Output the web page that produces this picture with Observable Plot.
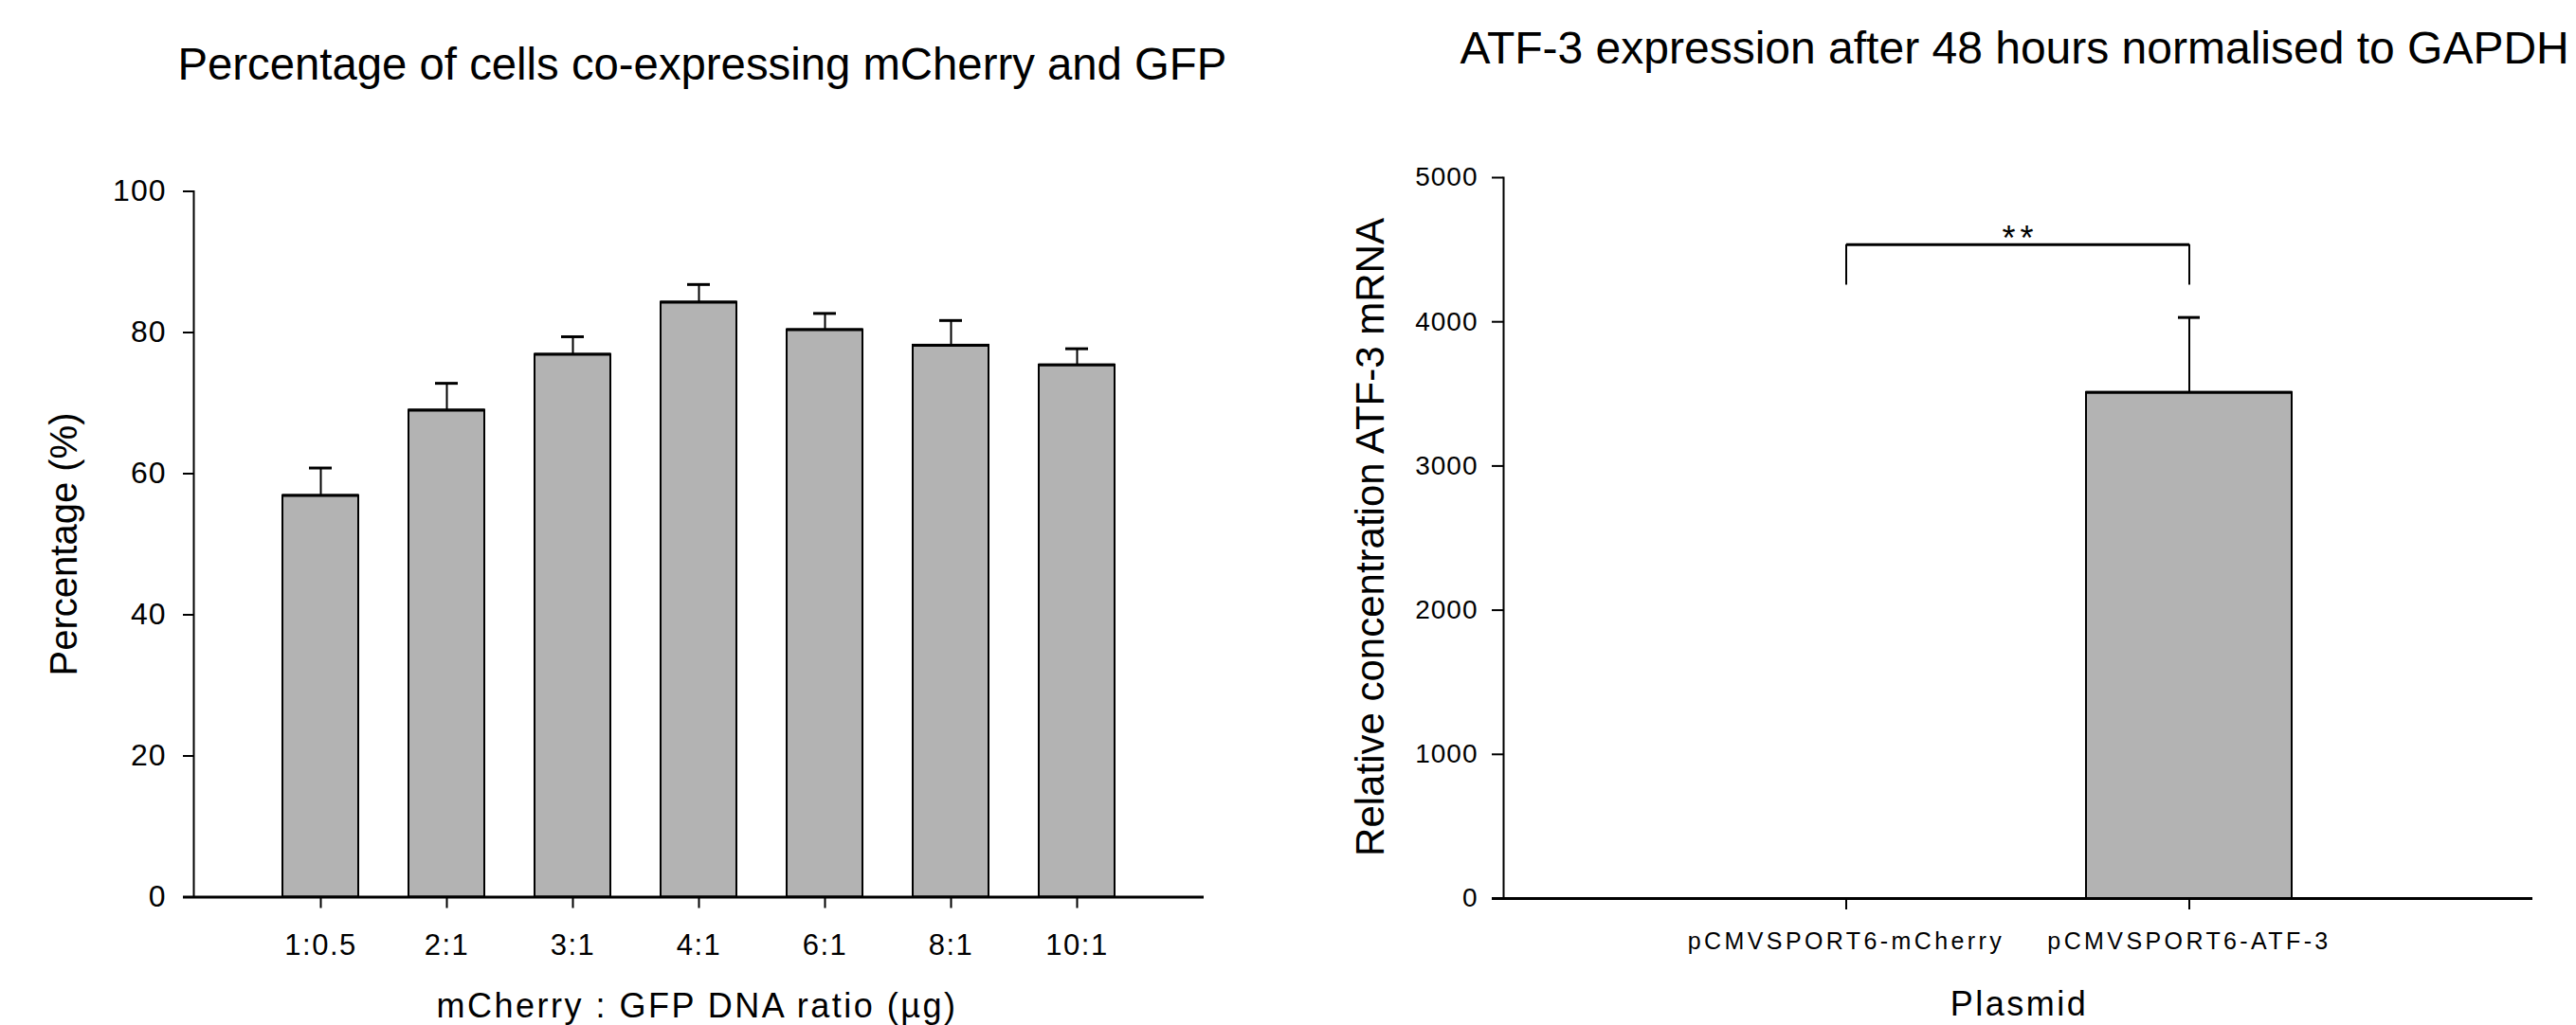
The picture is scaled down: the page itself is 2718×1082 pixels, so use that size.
<!DOCTYPE html>
<html>
<head>
<meta charset="utf-8">
<script src="https://cdn.jsdelivr.net/npm/d3@7"></script>
<script src="https://cdn.jsdelivr.net/npm/@observablehq/plot@0.6"></script>
<style>
html, body { margin: 0; padding: 0; background: #ffffff; }
#wrap { position: relative; width: 2718px; height: 1082px; overflow: hidden; background: #ffffff; }
#left { position: absolute; left: 0; top: 0; }
#right { position: absolute; left: 1359px; top: 0; }
</style>
</head>
<body>
<div id="wrap"><div id="left"></div><div id="right"></div></div>
<script>
// ---- Left chart data ----
const leftTitle = "Percentage of cells co-expressing mCherry and GFP";
const leftXLabel = "mCherry : GFP DNA ratio (µg)";
const leftYLabel = "Percentage (%)";
const ratios = ["1:0.5", "2:1", "3:1", "4:1", "6:1", "8:1", "10:1"];
const percent = [56.9, 69.0, 76.9, 84.3, 80.4, 78.2, 75.4];
const percentErr = [3.9, 3.8, 2.5, 2.5, 2.3, 3.5, 2.3];
const percentTicks = [0, 20, 40, 60, 80, 100];

// ---- Right chart data ----
const rightTitle = "ATF-3 expression after 48 hours normalised to GAPDH";
const rightXLabel = "Plasmid";
const rightYLabel = "Relative concentration ATF-3 mRNA";
const plasmids = ["pCMVSPORT6-mCherry", "pCMVSPORT6-ATF-3"];
const atf3 = [0, 3510];
const atf3Err = [0, 520];
const atf3Ticks = [0, 1000, 2000, 3000, 4000, 5000];
const bracketLow = 4255;
const bracketHigh = 4535;
const significance = "**";

const FONT = '"Liberation Sans", Arial, Helvetica, sans-serif';
const BAR = "#b3b3b3";

const leftData = ratios.map((c, i) => ({cat: c, value: percent[i], err: percentErr[i]}));
const rightData = plasmids.map((c, i) => ({cat: c, value: atf3[i], err: atf3Err[i]}));
const bracketData = plasmids.map(c => ({cat: c, lo: bracketLow, hi: bracketHigh}));

function letterSpace(svg, selector, ls) {
  svg.querySelectorAll(selector).forEach(t => { t.style.letterSpacing = ls; });
}
function letterSpaceText(svg, content, ls) {
  svg.querySelectorAll("text").forEach(t => { if (t.textContent === content) t.style.letterSpacing = ls; });
}

const left = Plot.plot({
  width: 1359, height: 1082,
  marginLeft: 204, marginRight: 89, marginTop: 201.5, marginBottom: 135.5,
  style: {fontFamily: FONT, background: "white", color: "black", overflow: "visible"},
  x: {type: "band", domain: ratios, paddingInner: 0.4, paddingOuter: 0.7},
  y: {domain: [0, 100]},
  marks: [
    Plot.barY(leftData, {x: "cat", y: "value", fill: BAR, stroke: "black", strokeWidth: 2}),
    Plot.ruleX(leftData, {x: "cat", y1: "value", y2: d => d.value + d.err, stroke: "black", strokeWidth: 2}),
    Plot.tickY(leftData, {x: "cat", y: d => d.value + d.err, stroke: "black", strokeWidth: 3, insetLeft: 28, insetRight: 28}),
    Plot.tickY(leftData, {x: "cat", y: "value", stroke: "black", strokeWidth: 3}),
    Plot.frame({anchor: "left", stroke: "black", strokeWidth: 2}),
    Plot.ruleY([0], {stroke: "black", strokeWidth: 3, insetLeft: -11}),
    Plot.axisY({ticks: percentTicks, tickSize: 11, tickPadding: 18, fontSize: 32, strokeWidth: 2, label: null, tickFormat: d => String(d)}),
    Plot.axisX({tickSize: 12, tickPadding: 26.5, fontSize: 31, strokeWidth: 2, label: null}),
    Plot.text([leftTitle], {text: d => d, frameAnchor: "top-left", textAnchor: "start", lineAnchor: "bottom", fontSize: 47.3, dx: -17, dy: -118.5}),
    Plot.text([leftXLabel], {text: d => d, frameAnchor: "bottom", textAnchor: "middle", lineAnchor: "bottom", fontSize: 36, dx: -2, dy: 126.5}),
    Plot.text([leftYLabel], {text: d => d, frameAnchor: "left", textAnchor: "middle", lineAnchor: "bottom", rotate: -90, fontSize: 40, dx: -124})
  ]
});
letterSpace(left, 'g[aria-label="x-axis tick label"] text', "1.5px");
letterSpace(left, 'g[aria-label="y-axis tick label"] text', "1px");
letterSpaceText(left, leftXLabel, "2.5px");
document.getElementById("left").appendChild(left);

const right = Plot.plot({
  width: 1359, height: 1082,
  marginLeft: 227, marginRight: 46, marginTop: 187, marginBottom: 134,
  style: {fontFamily: FONT, background: "white", color: "black", overflow: "visible"},
  x: {type: "band", domain: plasmids, paddingInner: 0.4, paddingOuter: 0.7},
  y: {domain: [0, 5000]},
  marks: [
    Plot.barY(rightData.filter(d => d.value > 0), {x: "cat", y: "value", fill: BAR, stroke: "black", strokeWidth: 2}),
    Plot.ruleX(rightData.filter(d => d.err > 0), {x: "cat", y1: "value", y2: d => d.value + d.err, stroke: "black", strokeWidth: 2}),
    Plot.tickY(rightData.filter(d => d.err > 0), {x: "cat", y: d => d.value + d.err, stroke: "black", strokeWidth: 3, insetLeft: 97, insetRight: 97}),
    Plot.tickY(rightData.filter(d => d.value > 0), {x: "cat", y: "value", stroke: "black", strokeWidth: 3}),
    Plot.ruleX(bracketData, {x: "cat", y1: "lo", y2: "hi", stroke: "black", strokeWidth: 2}),
    Plot.link([bracketData], {x1: d => d[0].cat, x2: d => d[1].cat, y1: d => d[0].hi, y2: d => d[1].hi, stroke: "black", strokeWidth: 3}),
    Plot.text([{y: bracketHigh, t: significance}], {y: "y", text: "t", textAnchor: "middle", lineAnchor: "bottom", fontSize: 36, dx: 2, dy: 6}),
    Plot.frame({anchor: "left", stroke: "black", strokeWidth: 2}),
    Plot.ruleY([0], {stroke: "black", strokeWidth: 3, insetLeft: -12}),
    Plot.axisY({ticks: atf3Ticks, tickSize: 12, tickPadding: 15, fontSize: 28, strokeWidth: 2, label: null, tickFormat: d => String(d)}),
    Plot.axisX({tickSize: 12, tickPadding: 24, fontSize: 25, strokeWidth: 2, label: null}),
    Plot.text([rightTitle], {text: d => d, frameAnchor: "top-left", textAnchor: "start", lineAnchor: "bottom", fontSize: 48, dx: -46, dy: -121}),
    Plot.text([rightXLabel], {text: d => d, frameAnchor: "bottom", textAnchor: "middle", lineAnchor: "bottom", fontSize: 36, dx: 1, dy: 123}),
    Plot.text([rightYLabel], {text: d => d, frameAnchor: "left", textAnchor: "middle", lineAnchor: "bottom", rotate: -90, fontSize: 42, dx: -127, dy: -1})
  ]
});
letterSpace(right, 'g[aria-label="x-axis tick label"] text', "3.4px");
letterSpace(right, 'g[aria-label="y-axis tick label"] text', "1px");
letterSpaceText(right, rightXLabel, "2.5px");
letterSpaceText(right, significance, "5px");
document.getElementById("right").appendChild(right);
</script>
</body>
</html>
